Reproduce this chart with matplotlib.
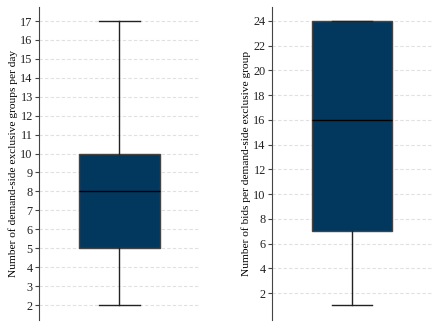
import matplotlib
matplotlib.use('Agg')
import matplotlib.pyplot as plt

# summary stats: whisker low, q1, median, q3, whisker high
groups_stats = [2, 5, 8, 10, 17]
bids_stats = [1, 7, 16, 24, 24]

groups_label = 'Number of demand-side exclusive groups per day'
bids_label = 'Number of bids per demand-side exclusive group'

groups_ticks = list(range(2, 18))
bids_ticks = list(range(2, 25, 2))

box_color = '#02375e'

plt.rcParams['font.family'] = ['Liberation Serif', 'DejaVu Serif']
plt.rcParams['font.size'] = 8.2


def make_stats(vals):
    lo, q1, med, q3, hi = vals
    return [{'whislo': lo, 'q1': q1, 'med': med, 'q3': q3, 'whishi': hi, 'fliers': []}]


def draw_box(ax, vals, ticks, ylim, label):
    ax.bxp(make_stats(vals), positions=[0], widths=0.5, showfliers=False,
           patch_artist=True,
           boxprops=dict(facecolor=box_color, edgecolor='#444444', linewidth=1.0),
           medianprops=dict(color='black', linewidth=1.0),
           whiskerprops=dict(color='#222222', linewidth=1.0),
           capprops=dict(color='#222222', linewidth=1.0),
           capwidths=0.25)
    ax.set_xlim(-0.5, 0.5)
    ax.set_ylim(*ylim)
    ax.set_yticks(ticks)
    ax.set_xticks([])
    ax.set_ylabel(label, labelpad=2)
    for side in ['top', 'right', 'bottom']:
        ax.spines[side].set_visible(False)
    ax.spines['left'].set_color('#444444')
    ax.tick_params(axis='y', length=3, width=0.8, pad=1.5, color='#444444',
                   labelsize=8.8, labelcolor='#222222')
    ax.grid(axis='y', color='#e0e0e0', linestyle=(0, (3, 2)), linewidth=0.8)
    ax.set_axisbelow(True)


fig = plt.figure(figsize=(4.39, 3.27), dpi=100)
ax1 = fig.add_axes([0.0888, 0.0214, 0.3668, 0.9572])
ax2 = fig.add_axes([0.6196, 0.0214, 0.3644, 0.9572])

draw_box(ax1, groups_stats, groups_ticks, (1.21, 17.74), groups_label)
draw_box(ax2, bids_stats, bids_ticks, (-0.18, 25.13), bids_label)

fig.savefig('out.png', dpi=100)
